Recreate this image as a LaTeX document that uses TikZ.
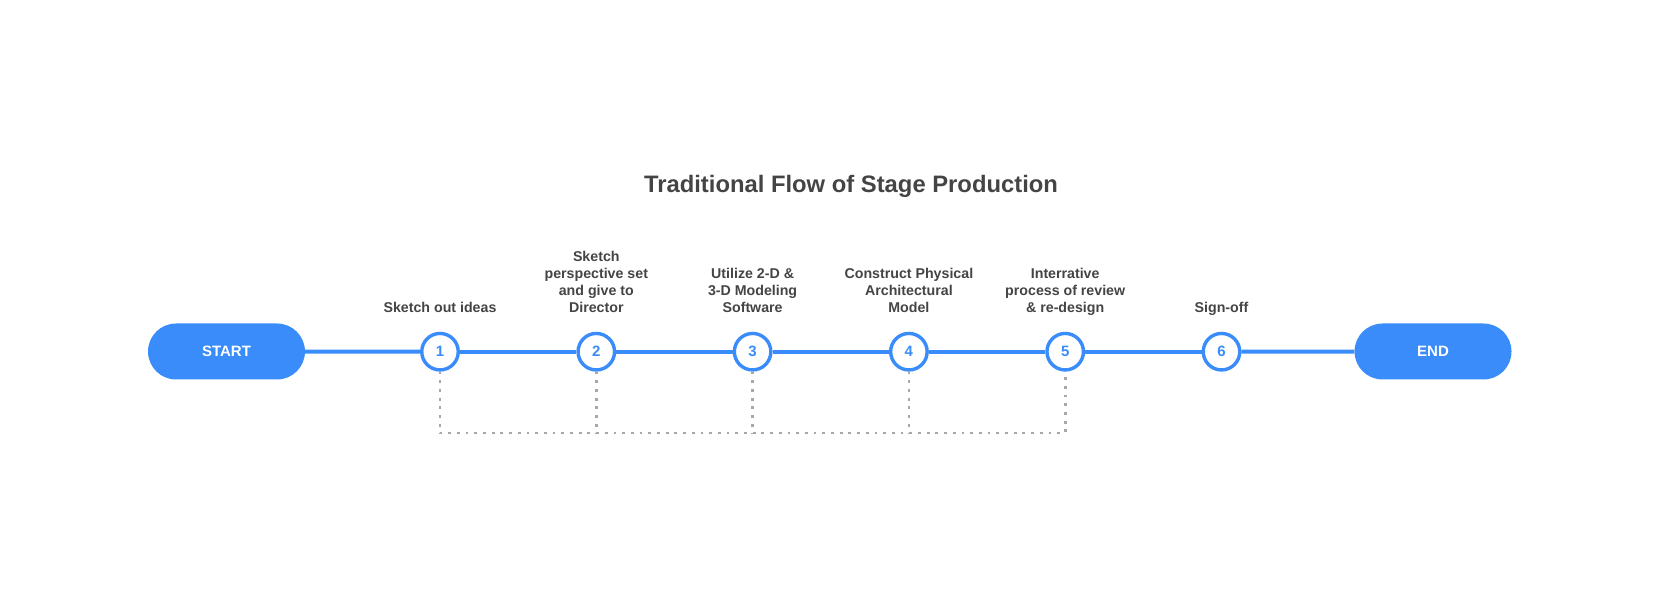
\documentclass[tikz,border=0pt]{standalone}
\usepackage{fontspec}
\setmainfont{Liberation Sans}
\definecolor{flowblue}{RGB}{57,140,250}
\definecolor{labelgray}{RGB}{68,68,68}
\definecolor{dotgray}{RGB}{168,168,168}
\begin{document}
\begin{tikzpicture}[x=1pt,y=-1pt,
  pill/.style={rectangle, rounded corners=28pt, fill=flowblue, minimum width=157pt, minimum height=56pt, inner sep=0pt,
    text=white, font=\fontsize{15}{18}\selectfont\bfseries},
  stepcircle/.style={circle, draw=flowblue, line width=3.4pt, fill=white, minimum size=36.5pt, inner sep=0pt,
    text=flowblue, font=\fontsize{15}{18}\selectfont\bfseries},
  steplabel/.style={anchor=south, align=center, inner sep=0pt, text depth=0pt, text=labelgray,
    font=\fontsize{14.2}{17}\selectfont\bfseries},
  flowline/.style={draw=flowblue, line width=4pt},
  dotline/.style={draw=dotgray, line width=2.8pt, dash pattern=on 2.8pt off 5.9pt}
]
\useasboundingbox (0,0) rectangle (1660,601);

\node[anchor=base, text=labelgray, font=\fontsize{23.8}{28}\selectfont\bfseries, inner sep=0pt] (title) at (851,193) {Traditional Flow of Stage Production};

\node[pill] (start) at (226.5,351.5) {START};
\node[pill] (end) at (1433,351.5) {END};

\foreach \i/\x in {1/440,2/596.3,3/752.6,4/908.9,5/1065.2,6/1221.5}{
  \node[stepcircle] (c\i) at (\x,351.7) {\i};
}

\node[steplabel] (l1) at (440,313) {Sketch out ideas};
\node[steplabel] (l2) at (596.3,313) {Sketch\\perspective set\\and give to\\Director};
\node[steplabel] (l3) at (752.6,313) {Utilize 2-D \&\\3-D Modeling\\Software};
\node[steplabel] (l4) at (908.9,313) {Construct Physical\\Architectural\\Model};
\node[steplabel] (l5) at (1065.2,313) {Interrative\\process of review\\\& re-design};
\node[steplabel] (l6) at (1221.5,313) {Sign-off};

\draw[flowline] (start) -- (c1);
\draw[flowline] (c1) -- (c2);
\draw[flowline] (c2) -- (c3);
\draw[flowline] (c3) -- (c4);
\draw[flowline] (c4) -- (c5);
\draw[flowline] (c5) -- (c6);
\draw[flowline] (c6) -- (end);

\foreach \i/\x in {1/440,2/596.3,3/752.6,4/908.9,5/1065.2}{
  \coordinate (b\i) at (\x,433);
}
\draw[dotline] (c1.south) -- (b1) -- (b5) -- (c5.south);
\draw[dotline] (c2.south) -- (b2);
\draw[dotline] (c3.south) -- (b3);
\draw[dotline] (c4.south) -- (b4);
\end{tikzpicture}
\end{document}
